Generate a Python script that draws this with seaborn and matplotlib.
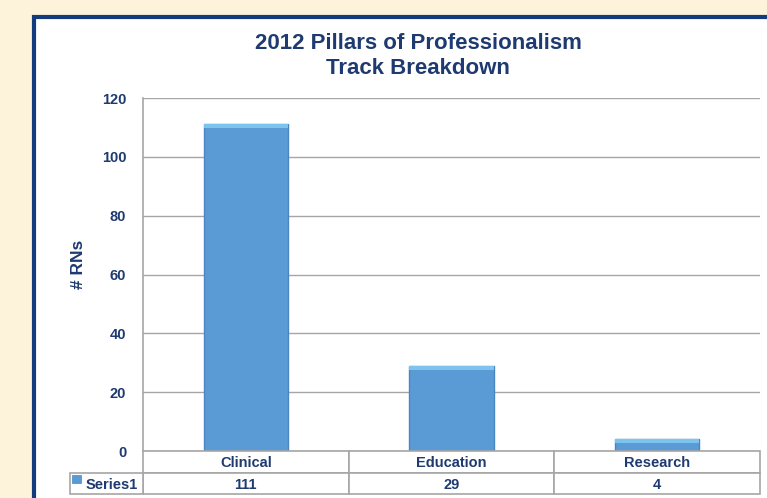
import matplotlib
matplotlib.use("Agg")
import matplotlib.pyplot as plt
import seaborn as sns
import pandas as pd
import numpy as np
from matplotlib.patches import Rectangle

categories = ["Clinical", "Education", "Research"]
values = [111, 29, 4]
series_name = "Series1"
yticks = [0, 20, 40, 60, 80, 100, 120]
title = "2012 Pillars of Professionalism\nTrack Breakdown"
ylabel = "# RNs"

NAVY = "#1E3A70"
BAR = "#5B9BD5"
GRID = "#A6A6A6"

sns.set_theme(style="white")
plt.rcParams["font.family"] = ["Liberation Sans", "DejaVu Sans"]

W, H = 767, 498
fig = plt.figure(figsize=(W / 100, H / 100), dpi=100)
fig.patch.set_facecolor("#FDF3DB")

# white panel with navy border
panel = Rectangle((34 / W, -0.05), 1.0, (H - 17) / H + 0.05, transform=fig.transFigure,
                  facecolor="white", edgecolor="#123C7C", linewidth=3, zorder=-10)
fig.patches.append(panel)

L, R, T, B = 143, 760, 98, 451
ax = fig.add_axes([L / W, 1 - B / H, (R - L) / W, (B - T) / H])
ax.set_facecolor("none")

df = pd.DataFrame({"cat": categories, "val": values})
sns.barplot(data=df, x="cat", y="val", color=BAR, width=0.41, ax=ax,
            saturation=1, edgecolor="#4A86C0", linewidth=1.0, zorder=3)
# light top caps
cap = 1.3
ax.bar(np.arange(len(values)), [cap] * len(values), bottom=np.array(values) - cap,
       width=0.41, color="#7CC4EE", linewidth=0, zorder=4)

ax.set_ylim(0, 120)
ax.set_xlim(-0.5, len(categories) - 0.5)
ax.set_yticks(yticks)
ax.set_yticklabels([str(t) for t in yticks], fontsize=10.5, fontweight="bold", color=NAVY)
ax.tick_params(axis="y", length=0, pad=12)
ax.set_xticks([])
ax.set_xlabel("")
ax.set_ylabel(ylabel, fontsize=12.5, fontweight="bold", color=NAVY)
ax.yaxis.set_label_coords((86 - L) / (R - L), (B - 264) / (B - T))
ax.yaxis.grid(True, color=GRID, linewidth=1, zorder=0)
ax.set_axisbelow(True)
for s in ["top", "right", "bottom"]:
    ax.spines[s].set_visible(False)
ax.spines["left"].set_color(GRID)
ax.spines["left"].set_linewidth(1.2)

fig.text(418 / W, 1 - 56 / H, title, ha="center", va="center", fontsize=16,
         fontweight="bold", color=NAVY, linespacing=1.25)


# data table drawn in pixel-derived axes coordinates
def ax_x(px):
    return (px - L) / (R - L)


def ax_y(py):
    return (B - py) / (B - T)


row1_top, row1_bot, row2_bot = 451, 473, 494
colw = (R - L) / len(categories)
lw = 1.2
for j, (c, v) in enumerate(zip(categories, values)):
    x0 = L + j * colw
    for (top, bot, txt) in [(row1_top, row1_bot, c), (row1_bot, row2_bot, str(v))]:
        ax.add_patch(Rectangle((ax_x(x0), ax_y(bot)), colw / (R - L), (bot - top) / (B - T),
                               transform=ax.transAxes, facecolor="white", edgecolor=GRID,
                               linewidth=lw, clip_on=False, zorder=5))
        ax.text(ax_x(x0 + colw / 2), ax_y((top + bot) / 2 + 1), txt, transform=ax.transAxes,
                ha="center", va="center", fontsize=10.5, fontweight="bold", color=NAVY,
                clip_on=False, zorder=6)
# series label cell
ax.add_patch(Rectangle((ax_x(70), ax_y(row2_bot)), (L - 70) / (R - L), (row2_bot - row1_bot) / (B - T),
                       transform=ax.transAxes, facecolor="white", edgecolor=GRID,
                       linewidth=lw, clip_on=False, zorder=5))
ax.text(ax_x(86), ax_y((row1_bot + row2_bot) / 2 + 1), series_name, transform=ax.transAxes,
        ha="left", va="center", fontsize=10.5, fontweight="bold", color=NAVY,
        clip_on=False, zorder=6)
# legend key
ax.add_patch(Rectangle((ax_x(72), ax_y(483)), 9 / (R - L), 8 / (B - T), transform=ax.transAxes,
                       facecolor=BAR, edgecolor="#4A86C0", linewidth=0.5, clip_on=False, zorder=6))

fig.savefig("out.png", dpi=100, facecolor=fig.get_facecolor())
